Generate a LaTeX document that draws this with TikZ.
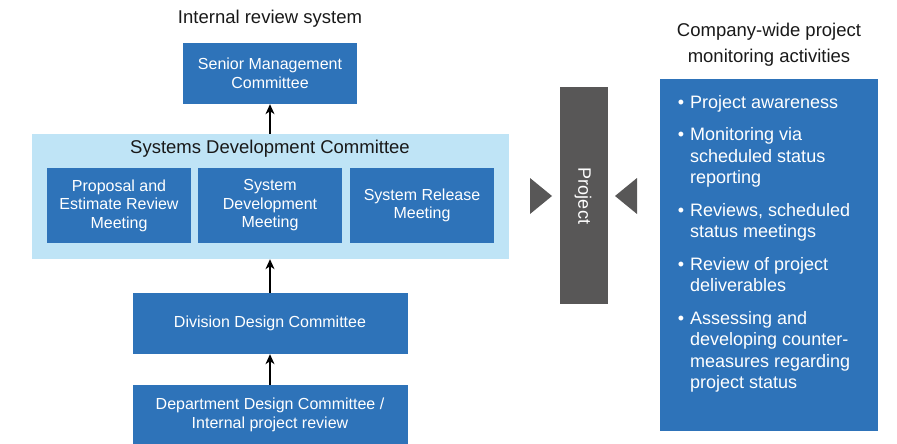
\documentclass[tikz,border=0pt]{standalone}
\usepackage{fontspec}
\setmainfont{Liberation Sans}
\usetikzlibrary{arrows.meta}
\definecolor{boxblue}{RGB}{46,115,185}
\definecolor{paleblue}{RGB}{191,228,246}
\definecolor{projgray}{RGB}{88,87,87}
\begin{document}
\begin{tikzpicture}[x=1pt,y=-1pt, box/.style={fill=boxblue,text=white,align=center,inner sep=0pt,font=\fontsize{16}{18.5}\selectfont}, heading/.style={align=center,font=\fontsize{18.5}{26}\selectfont,text=black!90}, up/.style={-{Stealth[length=10pt,width=9pt,inset=3pt]}, line width=1.2pt}, pointer/.style={fill=projgray}]
\useasboundingbox (0,0) rectangle (897,444);
\node[heading] (irs) at (270,19) {Internal review system};
\node[box, minimum width=174pt, minimum height=61pt] (senior) at (270,73.5) {Senior Management\\Committee};
\node[fill=paleblue, minimum width=477pt, minimum height=125pt, inner sep=0pt] (sdc) at (270,196.5) {};
\node[heading, font=\fontsize{18.5}{22}\selectfont] (sdclabel) at (270,149) {Systems Development Committee};
\node[box, minimum width=144pt, minimum height=75pt] (pem) at (119,205.5) {Proposal and\\Estimate Review\\Meeting};
\node[box, minimum width=144pt, minimum height=75pt] (sdm) at (270,205.5) {System\\Development\\Meeting};
\node[box, minimum width=144pt, minimum height=75pt] (srm) at (422,205.5) {System Release\\Meeting};
\node[box, minimum width=275pt, minimum height=61pt] (division) at (270,323.5) {Division Design Committee};
\node[box, minimum width=275pt, minimum height=60pt] (dept) at (270,415) {Department Design Committee /\\Internal project review};
\draw[up] (sdc.north) -- (senior.south);
\draw[up] (division.north) -- (sdc.south);
\draw[up] (dept.north) -- (division.south);
% project bar with the two pointers
\node[fill=projgray, minimum width=48pt, minimum height=217pt, inner sep=0pt] (project) at (584,195.5) {};
\node[text=white, rotate=-90, font=\fontsize{18}{20}\selectfont] (projlabel) at (583,196) {Project};
\fill[pointer] (530,178) -- (552,196) -- (530,214) -- cycle;
\fill[pointer] (637,178) -- (615,196) -- (637,214) -- cycle;
% monitoring activities
\node[heading] (cw) at (769,45) {Company-wide project\\monitoring activities};
\node[fill=boxblue, minimum width=218pt, minimum height=352pt, inner sep=0pt] (activities) at (769,255) {};
\node[anchor=north west, inner sep=0pt, text=white, align=left, font=\fontsize{18}{21.5}\selectfont] (items) at (690,95)
{\llap{\textbullet\hspace{6pt}}Project awareness\\[11pt]
\llap{\textbullet\hspace{6pt}}Monitoring via\\scheduled status\\reporting\\[11pt]
\llap{\textbullet\hspace{6pt}}Reviews, scheduled\\status meetings\\[11pt]
\llap{\textbullet\hspace{6pt}}Review of project\\deliverables\\[11pt]
\llap{\textbullet\hspace{6pt}}Assessing and\\developing counter-\\measures regarding\\project status};
\end{tikzpicture}
\end{document}
